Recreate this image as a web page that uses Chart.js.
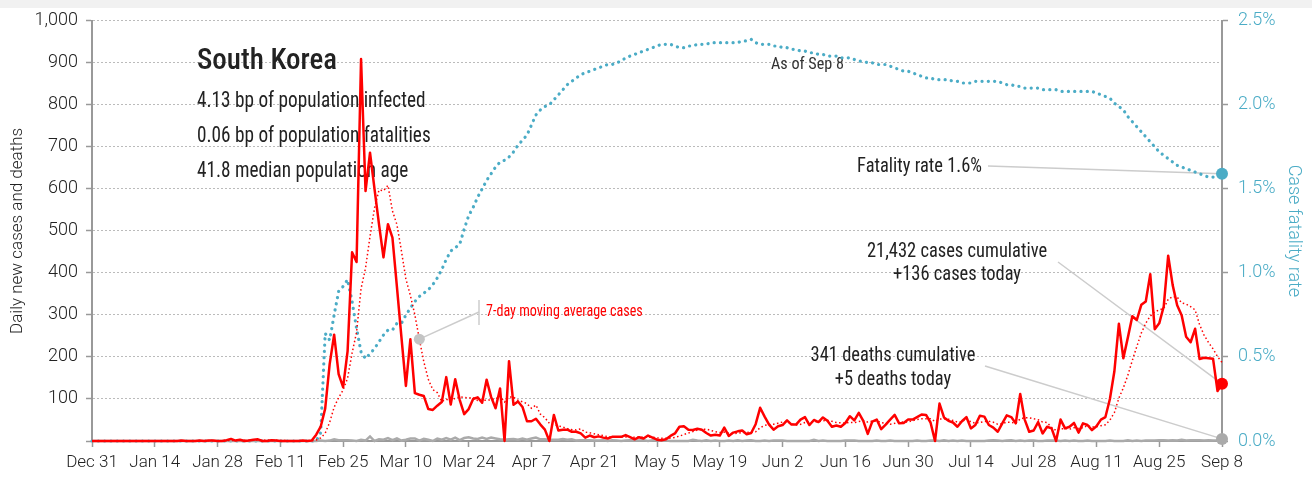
<!DOCTYPE html>
<html>
<head>
<meta charset="utf-8">
<title>South Korea</title>
<script src="https://cdn.jsdelivr.net/npm/chart.js"></script>
<style>
  html, body { margin: 0; padding: 0; background: #fff; }
  #wrap { position: relative; width: 1312px; height: 480px; }
  #strip { position: absolute; left: 0; top: 0; width: 1312px; height: 8px; background: #f1f1f1; }
</style>
</head>
<body>
<div id="wrap">
  <canvas id="chart" width="1312" height="480"></canvas>
  <div id="strip"></div>
</div>
<script>
"use strict";
// Daily series, one value per day from Dec 31 to Sep 8 (253 days)
const xTickLabels = ['Dec 31', 'Jan 14', 'Jan 28', 'Feb 11', 'Feb 25', 'Mar 10', 'Mar 24', 'Apr 7',
  'Apr 21', 'May 5', 'May 19', 'Jun 2', 'Jun 16', 'Jun 30', 'Jul 14', 'Jul 28', 'Aug 11', 'Aug 25', 'Sep 8'];

const dailyCases = [
  0,
  // Jan
  0,0,0,0,0,0,0,0,0,0, 0,0,0,0,0,0,0,0,0,1, 0,0,0,1,0,1,1,0,0,2, 5,
  // Feb
  1,3,0,1,3,4,0,0,2,1, 0,0,0,0,0,1,0,1,15,34, 77,183,253,159,128,214,449,426,909,
  // Mar
  595,686,600,516,437,516,484,367,248,131, 242,114,110,107,76,74,84,93,152,87,
  147,98,64,76,100,104,91,146,105,78, 125,
  // Apr
  0,190,86,94,81,47,47,53,39,27, 0,62,25,27,27,22,22,18,8,13, 9,11,8,6,10,10,10,14,9,4,
  // May
  9,6,13,8,3,2,4,12,18,34, 35,27,26,29,27,19,13,15,13,32, 12,20,23,25,16,19,40,79,58,39, 27,
  // Jun
  35,38,49,39,39,51,57,38,50,45, 56,48,34,37,34,43,59,49,67,48, 17,46,51,28,39,51,62,42,43,51,
  // Jul
  51,57,63,62,44,0,89,56,48,44, 34,47,57,30,38,60,58,38,32,22, 42,61,57,42,112,51,22,25,45,18, 34,
  // Aug
  30,0,51,30,34,43,20,42,38,26, 35,51,57,100,166,279,197,246,297,288,
  324,332,397,266,280,320,441,371,323,299, 248,
  // Sep
  235,267,195,198,197,196,119,136
];

const dailyDeaths = [
  0,
  // Jan
  0,0,0,0,0,0,0,0,0,0, 0,0,0,0,0,0,0,0,0,0, 0,0,0,0,0,0,0,0,0,0, 0,
  // Feb
  0,0,0,0,0,0,0,0,0,0, 0,0,0,0,0,0,0,0,0,1, 0,1,4,2,2,2,1,0,3,
  // Mar
  1,11,0,4,3,7,2,6,1,3, 6,6,1,5,3,0,6,3,7,3, 8,2,7,9,6,5,8,5,8,6, 4,
  // Apr
  3,4,5,3,6,3,6,8,4,4, 3,3,3,5,3,4,1,2,2,2, 1,1,2,0,2,1,0,1,2,1,
  // May
  1,2,0,2,2,1,1,0,0,0, 0,0,3,1,0,2,0,1,0,0, 1,0,2,0,1,2,0,0,1,0, 1,
  // Jun
  1,1,0,0,0,0,0,0,3,0, 1,0,0,0,0,1,1,1,0,0, 0,0,1,0,0,1,0,0,0,0,
  // Jul
  0,1,0,0,1,1,0,2,0,1, 0,1,0,0,0,0,0,1,2,1, 0,1,2,0,1,0,1,1,0,0, 1,
  // Aug
  1,1,0,1,0,1,0,0,1,0, 0,0,0,1,0,0,0,2,0,1, 0,1,1,1,2,2,1,2,1,3, 1,
  // Sep
  2,2,2,1,2,1,2,5
];

// case fatality rate, percent (right axis)
const fatalityRate = [
  0,
  // Jan
  0,0,0,0,0,0,0,0,0,0, 0,0,0,0,0,0,0,0,0,0, 0,0,0,0,0,0,0,0,0,0, 0,
  // Feb
  0,0,0,0,0,0,0,0,0,0, 0,0,0,0,0,0,0,0,0,0.05, 0.64,0.60,0.75,0.89,0.92,0.96,0.83,0.67,0.53,
  // Mar
  0.49,0.52,0.55,0.59,0.63,0.66,0.66,0.70,0.70,0.75, 0.79,0.83,0.86,0.88,0.90,0.93,0.97,1.02,1.08,1.13,
  1.15,1.17,1.26,1.34,1.39,1.45,1.50,1.55,1.59,1.63, 1.66,
  // Apr
  1.67,1.69,1.72,1.76,1.79,1.82,1.88,1.94,1.97,1.99, 2.00,2.03,2.06,2.09,2.12,2.14,2.16,2.18,2.19,2.20,
  2.21,2.22,2.23,2.24,2.24,2.25,2.26,2.28,2.29,2.30,
  // May
  2.31,2.32,2.33,2.34,2.35,2.36,2.36,2.36,2.35,2.34, 2.34,2.35,2.35,2.36,2.36,2.36,2.37,2.37,2.37,2.37,
  2.37,2.37,2.37,2.38,2.38,2.39,2.37,2.36,2.36,2.36, 2.35,
  // Jun
  2.35,2.34,2.34,2.33,2.33,2.32,2.32,2.31,2.31,2.30, 2.30,2.29,2.29,2.29,2.28,2.28,2.28,2.27,2.26,2.26,
  2.25,2.25,2.24,2.24,2.24,2.23,2.22,2.21,2.20,2.20,
  // Jul
  2.19,2.18,2.17,2.16,2.16,2.15,2.15,2.15,2.15,2.14, 2.14,2.13,2.13,2.13,2.14,2.14,2.14,2.14,2.14,2.14,
  2.13,2.12,2.12,2.11,2.11,2.10,2.10,2.10,2.10,2.09, 2.09,
  // Aug
  2.09,2.09,2.08,2.08,2.08,2.08,2.08,2.08,2.08,2.08, 2.07,2.06,2.05,2.04,2.01,1.99,1.97,1.93,1.90,1.87,
  1.84,1.81,1.78,1.75,1.72,1.70,1.68,1.66,1.64,1.63, 1.62,
  // Sep
  1.61,1.60,1.59,1.58,1.57,1.57,1.57,1.59
];

const country = 'South Korea';
const infoLines = ['4.13 bp of population infected', '0.06 bp of population fatalities', '41.8 median population age'];
const asOf = 'As of Sep 8';
const cumulativeCases = 21432;
const cumulativeDeaths = 341;
const maLabelDay = 73;   // where the 7-day average label points

const AXIS_FONT = "Roboto, 'Liberation Sans', sans-serif";
const NOTE_FONT = "'Roboto Condensed', 'Liberation Sans Narrow', 'DejaVu Sans Condensed', sans-serif";
const RED = '#ff0000';
const BLUE = '#4bacc6';
const GREY = '#aaaaaa';
const TEXT = '#222222';
const LAST = dailyCases.length - 1;

// trailing 7-day average of the daily cases
const movingAvg = dailyCases.map((v, i) => {
  const win = dailyCases.slice(Math.max(0, i - 6), i + 1);
  return win.reduce((a, b) => a + b, 0) / win.length;
});

const pts = arr => arr.map((v, i) => ({ x: i, y: v }));
const fmt = n => n.toLocaleString('en-US');

// condensed note text: draw at a given size and squeeze horizontally
function say(ctx, text, x, y, size, align, sx, weight) {
  ctx.save();
  ctx.font = (weight || 'normal') + ' ' + size + 'px ' + NOTE_FONT;
  ctx.textAlign = align;
  ctx.textBaseline = 'middle';
  ctx.translate(x, y);
  ctx.scale(sx, 1);
  ctx.fillText(text, 0, 0);
  ctx.restore();
}

function dotAt(chart, dsIndex, i) {
  const p = chart.getDatasetMeta(dsIndex).data[i];
  return { x: p.x, y: p.y };
}

function leader(ctx, x1, y1, x2, y2) {
  ctx.beginPath();
  ctx.moveTo(x1, y1);
  ctx.lineTo(x2, y2);
  ctx.stroke();
}

// texts and leader lines
const annotate = {
  id: 'annotate',
  beforeDatasetsDraw(chart) {
    const ctx = chart.ctx;
    ctx.save();
    ctx.fillStyle = TEXT;
    say(ctx, country, 197, 62, 29, 'left', 1.0, '500');
    infoLines.forEach((t, k) => say(ctx, t, 197, 101 + k * 35, 22, 'left', 0.875));
    ctx.fillStyle = '#333';
    say(ctx, asOf, 771, 65, 17, 'left', 0.95);

    ctx.strokeStyle = '#cccccc';
    ctx.lineWidth = 1.5;
    const ma = dotAt(chart, 1, maLabelDay);
    leader(ctx, ma.x, ma.y, 479, 312);
    leader(ctx, 479, 300, 479, 325);
    const rate = dotAt(chart, 3, LAST);
    leader(ctx, 988, 166, rate.x, rate.y);
    const cases = dotAt(chart, 0, LAST);
    leader(ctx, 1058, 262, cases.x, cases.y);
    const deaths = dotAt(chart, 2, LAST);
    leader(ctx, 985, 366, deaths.x, deaths.y);

    ctx.fillStyle = RED;
    say(ctx, '7-day moving average cases', 486, 312, 17, 'left', 0.83);

    ctx.fillStyle = TEXT;
    say(ctx, 'Fatality rate ' + fatalityRate[LAST].toFixed(1) + '%', 982, 167, 21, 'right', 0.88);
    say(ctx, fmt(cumulativeCases) + ' cases cumulative', 957, 252, 21, 'center', 0.88);
    say(ctx, '+' + fmt(dailyCases[LAST]) + ' cases today', 957, 275, 21, 'center', 0.88);
    say(ctx, fmt(cumulativeDeaths) + ' deaths cumulative', 893, 356, 21, 'center', 0.88);
    say(ctx, '+' + fmt(dailyDeaths[LAST]) + ' deaths today', 893, 380, 21, 'center', 0.88);
    ctx.restore();
  }
};

const endDot = r => c => (c.dataIndex === LAST ? r : 0);

new Chart(document.getElementById('chart').getContext('2d'), {
  type: 'line',
  data: {
    datasets: [{
      label: 'Daily new cases',
      data: pts(dailyCases),
      yAxisID: 'y',
      borderColor: RED,
      borderWidth: 2.5,
      borderJoinStyle: 'round',
      pointRadius: endDot(6),
      pointBackgroundColor: RED,
      pointBorderWidth: 0,
      clip: false,
      order: 0
    }, {
      label: '7-day moving average cases',
      data: pts(movingAvg),
      yAxisID: 'y',
      borderColor: RED,
      borderWidth: 1.5,
      borderDash: [1.5, 2.5],
      pointRadius: c => (c.dataIndex === maLabelDay ? 5.5 : 0),
      pointBackgroundColor: '#c4c4c4',
      pointBorderWidth: 0,
      clip: false,
      order: 1
    }, {
      label: 'Daily new deaths',
      data: pts(dailyDeaths),
      yAxisID: 'y',
      borderColor: GREY,
      borderWidth: 2.5,
      pointRadius: endDot(6),
      pointBackgroundColor: GREY,
      pointBorderWidth: 0,
      clip: false,
      order: 2
    }, {
      label: 'Case fatality rate',
      data: pts(fatalityRate),
      yAxisID: 'y1',
      borderColor: BLUE,
      borderWidth: 3.2,
      borderDash: [0.1, 6.2],
      borderCapStyle: 'round',
      pointRadius: endDot(6),
      pointBackgroundColor: BLUE,
      pointBorderWidth: 0,
      clip: false,
      order: 3
    }]
  },
  options: {
    responsive: false,
    animation: false,
    devicePixelRatio: 1,
    layout: { padding: { top: 16, bottom: 0, left: 0, right: 0 } },
    plugins: {
      legend: { display: false },
      tooltip: { enabled: false }
    },
    scales: {
      x: {
        type: 'linear',
        min: 0,
        max: LAST,
        afterFit: s => { s.height = 39; },
        ticks: {
          stepSize: 14,
          autoSkip: false,
          maxRotation: 0,
          padding: 6,
          color: TEXT,
          font: { family: AXIS_FONT, size: 17, weight: '300' },
          callback: v => xTickLabels[v / 14]
        },
        grid: { drawOnChartArea: false, drawTicks: true, tickLength: 6, tickColor: '#999', tickWidth: 1.5 },
        border: { color: '#999', width: 2 }
      },
      y: {
        position: 'left',
        min: 0,
        max: 1000,
        afterFit: s => { s.width = 92; },
        ticks: {
          stepSize: 100,
          padding: 8,
          color: TEXT,
          font: { family: AXIS_FONT, size: 18, weight: '300' },
          callback: v => (v === 0 ? '' : fmt(v))
        },
        grid: { color: '#bbbbbb', lineWidth: 1, tickColor: '#999', tickLength: 6, tickWidth: 1.5, tickBorderDash: [] },
        border: { color: '#999', width: 2, dash: [2, 2] },
        title: {
          display: true,
          text: 'Daily new cases and deaths',
          color: TEXT,
          font: { family: AXIS_FONT, size: 17, weight: '300' },
          padding: { top: 8, bottom: 0 }
        }
      },
      y1: {
        position: 'right',
        min: 0,
        max: 2.5,
        afterFit: s => { s.width = 90; },
        ticks: {
          stepSize: 0.5,
          padding: 10,
          color: BLUE,
          font: { family: AXIS_FONT, size: 18, weight: '300' },
          callback: v => v.toFixed(1) + '%'
        },
        grid: { drawOnChartArea: false, tickColor: '#999', tickLength: 6, tickWidth: 1.5 },
        border: { color: '#999', width: 2 },
        title: {
          display: true,
          text: 'Case fatality rate',
          color: BLUE,
          font: { family: AXIS_FONT, size: 18, weight: '300' },
          padding: { top: 8, bottom: 0 }
        }
      }
    }
  },
  plugins: [annotate]
});
</script>
</body>
</html>
